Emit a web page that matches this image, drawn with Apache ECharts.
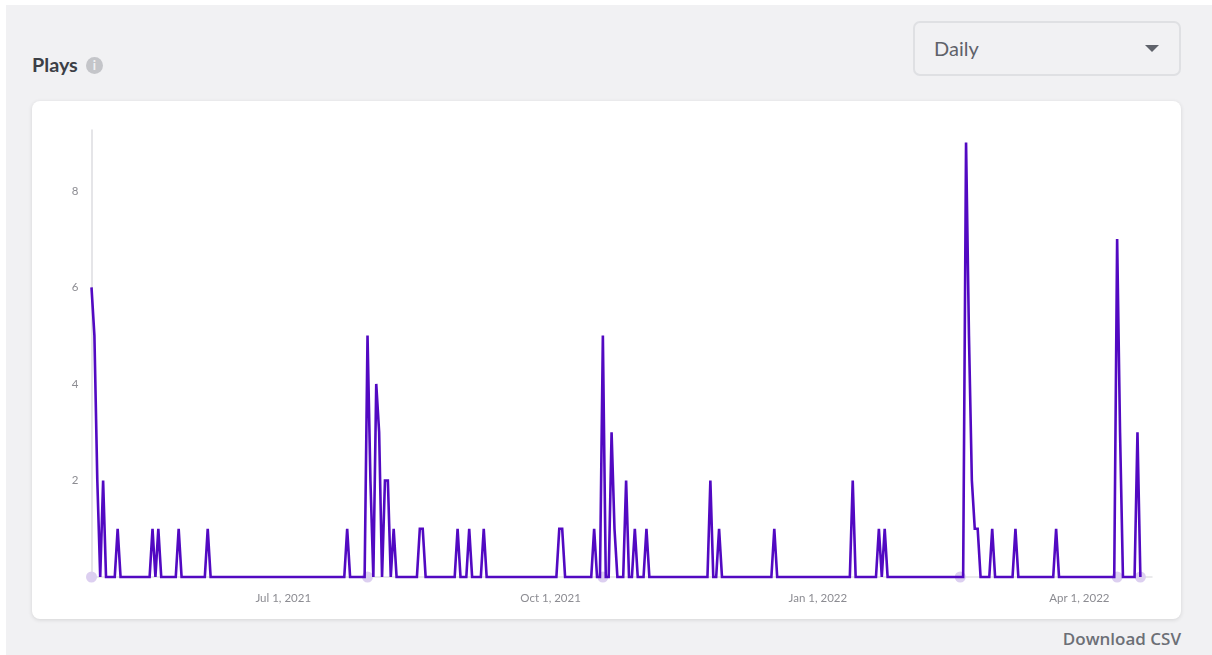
<!DOCTYPE html>
<html>
<head>
<meta charset="utf-8">
<title>Plays</title>
<script src="https://cdn.jsdelivr.net/npm/echarts@6/dist/echarts.min.js"></script>
<style>
    * { margin: 0; box-sizing: border-box; }
    html, body { width: 1212px; height: 655px; background: #fff; overflow: hidden; font-family: Lato, sans-serif; }
    #panel { position: absolute; left: 6px; top: 5px; width: 1206px; height: 650px; background: #f1f1f3; }
    #title { position: absolute; left: 32px; top: 52px; font-size: 19.8px; line-height: 24px; font-weight: 700; color: #3c3f46; }
    #info { position: absolute; left: 86px; top: 57px; width: 17px; height: 17px; border-radius: 50%; background: #c4c5c9; color: #f1f1f3;
        font-size: 13px; line-height: 17px; font-weight: 700; text-align: center; }
    #select { position: absolute; left: 913px; top: 21px; width: 268px; height: 55px; border: 2px solid #dfe0e3; border-radius: 7px; }
    #select span { position: absolute; left: 19px; top: 12px; font-size: 20px; line-height: 27px; color: #5f626a; }
    #select i { position: absolute; left: 230px; top: 22px; border-left: 7px solid transparent; border-right: 7px solid transparent; border-top: 7px solid #5f626a; }
    #card { position: absolute; left: 32px; top: 101px; width: 1149px; height: 518px; background: #fff; border-radius: 8px; box-shadow: 0 1px 4px rgba(0,0,0,.12); }
    #main { width: 1149px; height: 518px; }
    #csv { position: absolute; right: 31px; top: 628px; font-family: "Open Sans", sans-serif; font-size: 17px; line-height: 22px; font-weight: 600; color: #6c6f76; }
</style>
</head>
<body>
<div id="panel"></div>
<div id="title">Plays</div>
<div id="info">i</div>
<div id="select"><span>Daily</span><i></i></div>
<div id="card"><div id="main"></div></div>
<div id="csv">Download CSV</div>
<script type="text/javascript">
// only the days where the line bends are listed, it runs flat at 0 between them
var playDates = [
    '2021-04-26','2021-04-27','2021-04-28','2021-04-29','2021-04-30','2021-05-01',
    '2021-05-04','2021-05-05','2021-05-06',
    '2021-05-16','2021-05-17','2021-05-18','2021-05-19','2021-05-20',
    '2021-05-25','2021-05-26','2021-05-27',
    '2021-06-04','2021-06-05','2021-06-06',
    '2021-07-22','2021-07-23','2021-07-24',
    '2021-07-29','2021-07-30','2021-07-31','2021-08-01','2021-08-02','2021-08-03','2021-08-04',
    '2021-08-05','2021-08-06','2021-08-07','2021-08-08','2021-08-09',
    '2021-08-16','2021-08-17','2021-08-18','2021-08-19',
    '2021-08-29','2021-08-30','2021-08-31',
    '2021-09-02','2021-09-03','2021-09-04',
    '2021-09-07','2021-09-08','2021-09-09',
    '2021-10-03','2021-10-04','2021-10-05','2021-10-06',
    '2021-10-15','2021-10-16','2021-10-17','2021-10-18','2021-10-19','2021-10-20','2021-10-21',
    '2021-10-22','2021-10-23','2021-10-24',
    '2021-10-26','2021-10-27','2021-10-28','2021-10-29','2021-10-30','2021-10-31',
    '2021-11-02','2021-11-03','2021-11-04',
    '2021-11-24','2021-11-25','2021-11-26','2021-11-27','2021-11-28','2021-11-29',
    '2021-12-16','2021-12-17','2021-12-18',
    '2022-01-12','2022-01-13','2022-01-14',
    '2022-01-21','2022-01-22','2022-01-23','2022-01-24','2022-01-25',
    '2022-02-20','2022-02-21','2022-02-22','2022-02-23','2022-02-24','2022-02-25','2022-02-26',
    '2022-03-01','2022-03-02','2022-03-03',
    '2022-03-09','2022-03-10','2022-03-11',
    '2022-03-23','2022-03-24','2022-03-25',
    '2022-04-13','2022-04-14','2022-04-15','2022-04-16',
    '2022-04-20','2022-04-21','2022-04-22'
];
var playValues = [
    6,5,2,0,2,0,
    0,1,0,
    0,1,0,1,0,
    0,1,0,
    0,1,0,
    0,1,0,
    0,5,2,0,4,3,0,
    2,2,0,1,0,
    0,1,1,0,
    0,1,0,
    0,1,0,
    0,1,0,
    0,1,1,0,
    0,1,0,0,5,0,0,
    3,1,0,
    0,2,0,0,1,0,
    0,1,0,
    0,2,0,0,1,0,
    0,1,0,
    0,2,0,
    0,1,0,1,0,
    0,9,5,2,1,1,0,
    0,1,0,
    0,1,0,
    0,1,0,
    0,7,3,0,
    0,3,0
];
var markerDates = ['2021-04-26','2021-07-30','2021-10-19','2022-02-19','2022-04-14','2022-04-22'];
var xTicks = ['2021-07-01','2021-10-01','2022-01-01','2022-04-01'];
var xTickLabels = ['Jul 1, 2021','Oct 1, 2021','Jan 1, 2022','Apr 1, 2022'];
var yTicks = [2,4,6,8];

function ts(d) {
    return Date.parse(d + 'T00:00:00Z');
}

var myChart = echarts.init(document.getElementById('main'));
myChart.setOption({
    animation: false,
    textStyle: {fontFamily: 'Lato'},
    grid: {left: 59.5, top: 29, width: 1060.5, height: 447},
    xAxis: {
        // value axis on timestamps, a time axis fails with customValues
        type: 'value',
        min: ts('2021-04-26'),
        max: ts('2022-04-26'),
        axisLine: {show: true, lineStyle: {color: '#e3e3e6', width: 1.5}},
        axisTick: {show: false},
        splitLine: {show: false},
        axisLabel: {
            customValues: xTicks.map(ts),
            color: '#8c8c92',
            fontSize: 11.5,
            margin: 15,
            formatter: function (value) {
                return xTickLabels[xTicks.map(ts).indexOf(value)] || '';
            }
        }
    },
    yAxis: {
        type: 'value',
        min: 0,
        max: 9.26,
        axisLine: {show: true, onZero: false, lineStyle: {color: '#dcdce0', width: 1.5}},
        axisTick: {show: false},
        splitLine: {show: false},
        axisLabel: {customValues: yTicks, color: '#8c8c92', fontSize: 11.5, margin: 13}
    },
    series: [{
        type: 'scatter',
        data: markerDates.map(function (d) { return [ts(d), 0]; }),
        symbolSize: 11,
        itemStyle: {color: '#dccff0', opacity: 1},
        clip: false,
        z: 1
    }, {
        type: 'line',
        data: playDates.map(function (d, i) { return [ts(d), playValues[i]]; }),
        showSymbol: false,
        lineStyle: {color: '#5209c2', width: 2.6, join: 'miter', miterLimit: 4},
        clip: false,
        z: 2
    }]
});
</script>
</body>
</html>
